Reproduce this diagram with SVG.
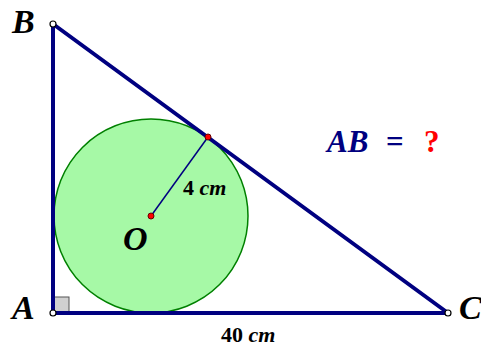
<svg xmlns="http://www.w3.org/2000/svg" width="481" height="349" viewBox="0 0 481 349">
<style>
.lbl{font-family:"Liberation Serif",serif;font-weight:bold;font-style:italic;fill:#000;font-size:34px}
.dim{font-family:"Liberation Serif",serif;font-weight:bold;fill:#000;font-size:22px}
.side{stroke:#000080;stroke-width:4;fill:none;stroke-linecap:round}
.vtx{fill:#fff;stroke:#000;stroke-width:1.2}
.pt{fill:#f00;stroke:#600;stroke-width:1}
</style>
<rect width="481" height="349" fill="#fff"/>
<g id="incircle">
<circle cx="151" cy="216" r="97" fill="#a6f9a6" stroke="#008000" stroke-width="1.5"/>
</g>
<g id="right-angle">
<rect x="54" y="297" width="15" height="15" fill="#d0d0d0" stroke="#555" stroke-width="1"/>
</g>
<g id="connectors">
<line class="side" x1="53" y1="24" x2="53" y2="313"/>
<line class="side" x1="53" y1="313" x2="448" y2="313"/>
<line class="side" x1="53" y1="24" x2="448" y2="313"/>
<line x1="151" y1="216" x2="208" y2="137" stroke="#000080" stroke-width="1.5"/>
</g>
<g id="A"><circle class="vtx" cx="53" cy="313" r="3"/><text class="lbl" x="12" y="319">A</text></g>
<g id="B"><circle class="vtx" cx="53" cy="24" r="3"/><text class="lbl" x="12" y="33">B</text></g>
<g id="C"><circle class="vtx" cx="448" cy="313" r="3"/><text class="lbl" x="459" y="319" font-size="30">C</text></g>
<g id="O"><circle class="pt" cx="151" cy="216" r="3"/><text class="lbl" x="123" y="250">O</text></g>
<g id="T"><circle class="pt" cx="208" cy="137" r="3"/></g>
<g id="radius-label"><text class="dim" x="183" y="195">4 <tspan font-style="italic">cm</tspan></text></g>
<g id="base-label"><text class="dim" x="221" y="342">40 <tspan font-style="italic">cm</tspan></text></g>
<g id="question"><text y="152" font-family="Liberation Serif,serif" font-weight="bold" font-size="31"><tspan x="327" font-style="italic" fill="#000080">AB</tspan><tspan x="386" fill="#000080">=</tspan><tspan x="424" fill="#f00">?</tspan></text></g>
</svg>
